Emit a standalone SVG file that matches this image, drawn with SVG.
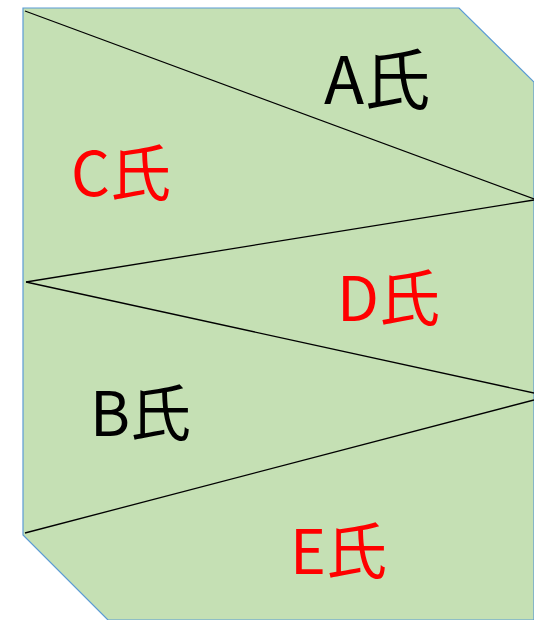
<svg xmlns="http://www.w3.org/2000/svg" width="534" height="620" viewBox="0 0 534 620">
<style>
.lbl{font-family:"Noto Sans CJK JP","Noto Sans",sans-serif;font-size:61px}
.red{fill:#FF0000}
.blk{fill:#000000}
.div{stroke:#000000;stroke-width:1.3;fill:none}
</style>
<g id="shape">
<polygon points="23,8 459,8 534,82 534,620 108,620 23,535" fill="#C5E0B4" stroke="#5B9BD5" stroke-width="1.2"/>
</g>
<g id="connectors">
<line class="div" x1="25" y1="11" x2="534" y2="199"/>
<line class="div" x1="534" y1="200" x2="26" y2="282"/>
<line class="div" x1="26" y1="282" x2="534" y2="393"/>
<line class="div" x1="534" y1="400" x2="25" y2="533"/>
</g>
<g id="A"><text class="lbl blk" x="324" y="104" style="font-size:66px">A氏</text></g>
<g id="C"><text class="lbl red" x="71" y="196">C氏</text></g>
<g id="D"><text class="lbl red" x="337" y="321">D氏</text></g>
<g id="B"><text class="lbl blk" x="90" y="436">B氏</text></g>
<g id="E"><text class="lbl red" x="290" y="574">E氏</text></g>
</svg>
